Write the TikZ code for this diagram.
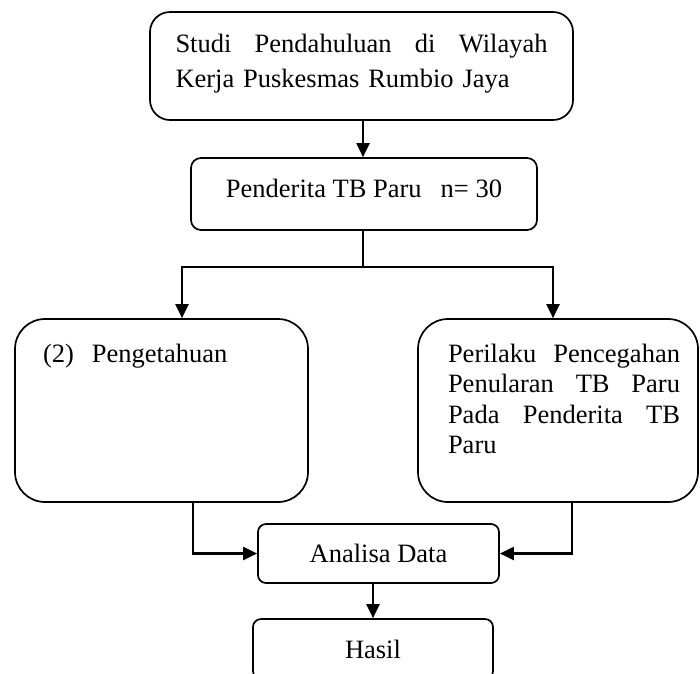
\documentclass[tikz,border=0pt]{standalone}
\usepackage{fontspec}
\setmainfont{Liberation Serif}
\usetikzlibrary{arrows.meta}
\begin{document}
\begin{tikzpicture}[x=1pt,y=-1pt,
  box/.style={draw, line width=1.7pt, inner sep=0pt, font=\fontsize{26.5pt}{30.5pt}\selectfont},
  conn/.style={line width=2.1pt},
  arr/.style={conn, -{Triangle[length=14pt,width=13pt]}}]
\useasboundingbox (0,0) rectangle (700,673);
\clip (0,0) rectangle (700,673);
% boxes
\node[box, rounded corners=20pt, minimum width=423pt, minimum height=108pt,
  text width=372pt, text height=18pt, text depth=46pt,
  font=\fontsize{26.5pt}{35pt}\selectfont] (top) at (361.5,66)
  {Studi\hfill Pendahuluan\hfill di\hfill Wilayah\\Kerja Puskesmas Rumbio Jaya};
\node[box, rounded corners=10pt, minimum width=346pt, minimum height=72pt,
  text height=18pt, text depth=12pt] (b2) at (364,194)
  {Penderita TB Paru\hspace{19pt}n= 30};
\node[box, rounded corners=30pt, minimum width=293pt, minimum height=183pt,
  text width=237pt, text height=18pt, text depth=115pt, align=left] (left) at (161.5,410.5)
  {(2)\hspace{18pt}Pengetahuan};
\node[box, rounded corners=30pt, minimum width=280pt, minimum height=183pt,
  text width=244pt, text height=18pt, text depth=115pt] (right) at (558,410.5)
  {\leftskip=12pt Perilaku\hfill Pencegahan\\Penularan\hfill TB\hfill Paru\\Pada\hfill Penderita\hfill TB\\Paru\par};
\node[box, rounded corners=8pt, minimum width=241pt, minimum height=59pt] (ana) at (378.5,553.5)
  {Analisa Data};
\node[box, rounded corners=8pt, minimum width=240pt, minimum height=60pt] (has) at (373,649)
  {Hasil};
% junction coordinates
\coordinate (j) at (363,267);
\coordinate (jl) at (182,267);
\coordinate (jr) at (553,267);
\coordinate (lb) at (193,0);
\coordinate (rb) at (572,0);
\coordinate (ab) at (373,0);
% connectors
\draw[arr] (top.south -| j) -- (b2.north -| j);
\draw[conn] (b2.south -| j) -- (j);
\draw[arr] (j) -| (left.north -| jl);
\draw[arr] (j) -| (right.north -| jr);
\draw[arr] (left.south -| lb) |- (ana.west);
\draw[arr] (right.south -| rb) |- (ana.east);
\draw[arr] (ana.south -| ab) -- (has.north -| ab);
\end{tikzpicture}
\end{document}
